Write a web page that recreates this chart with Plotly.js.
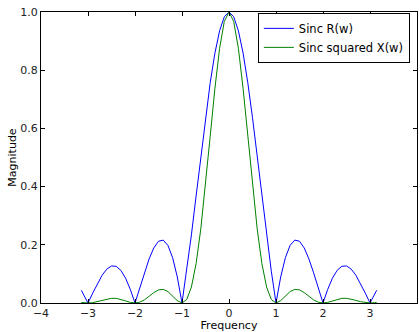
<!DOCTYPE html>
<html>
<head>
<meta charset="utf-8">
<script src="https://cdn.plot.ly/plotly-3.0.1.min.js"></script>
<style>html,body{margin:0;padding:0;background:#fff;}#chart{width:420px;height:332px;}</style>
</head>
<body>
<div id="chart"></div>
<script>
const freq = [-3.1416,-3.1,-3.0,-2.9,-2.8,-2.7,-2.6,-2.5,-2.4,-2.3,-2.2,-2.1,-2.0,-1.9,-1.8,-1.7,-1.6,-1.5,-1.4,-1.3,-1.2,-1.1,-1.0,-0.9,-0.8,-0.7,-0.6,-0.5,-0.4,-0.3,-0.2,-0.1,0.0,0.1,0.2,0.3,0.4,0.5,0.6,0.7,0.8,0.9,1.0,1.1,1.2,1.3,1.4,1.5,1.6,1.7,1.8,1.9,2.0,2.1,2.2,2.3,2.4,2.5,2.6,2.7,2.8,2.9,3.0,3.1,3.1416];
const sincR = [0.0436,0.0317,0,0.0339,0.0668,0.0954,0.1164,0.1273,0.1261,0.1120,0.0851,0.0468,0,0.0518,0.1039,0.1515,0.1892,0.2122,0.2162,0.1981,0.1559,0.0894,0,0.1093,0.2339,0.3679,0.5046,0.6366,0.7568,0.8584,0.9355,0.9836,1.0,0.9836,0.9355,0.8584,0.7568,0.6366,0.5046,0.3679,0.2339,0.1093,0,0.0894,0.1559,0.1981,0.2162,0.2122,0.1892,0.1515,0.1039,0.0518,0,0.0468,0.0851,0.1120,0.1261,0.1273,0.1164,0.0954,0.0668,0.0339,0,0.0317,0.0436];
const sincSqX = [0.0019,0.0010,0,0.0012,0.0045,0.0091,0.0136,0.0162,0.0159,0.0125,0.0072,0.0022,0,0.0027,0.0108,0.0230,0.0358,0.0450,0.0468,0.0392,0.0243,0.0080,0,0.0119,0.0547,0.1353,0.2546,0.4053,0.5728,0.7368,0.8751,0.9675,1.0,0.9675,0.8751,0.7368,0.5728,0.4053,0.2546,0.1353,0.0547,0.0119,0,0.0080,0.0243,0.0392,0.0468,0.0450,0.0358,0.0230,0.0108,0.0027,0,0.0022,0.0072,0.0125,0.0159,0.0162,0.0136,0.0091,0.0045,0.0012,0,0.0010,0.0019];
const seriesNames = ["Sinc R(w)", "Sinc squared X(w)"];

const traces = [
  {x: freq, y: sincR, mode: 'lines', name: seriesNames[0], line: {color: '#0000ff', width: 1}},
  {x: freq, y: sincSqX, mode: 'lines', name: seriesNames[1], line: {color: '#008000', width: 1}}
];
const axisCommon = {
  showgrid: false, zeroline: false, showline: true, linecolor: '#000', linewidth: 1,
  mirror: 'ticks', ticks: 'inside', ticklen: 4, tickcolor: '#000',
  tickfont: {family: 'DejaVu Sans', size: 11, color: '#222'}
};
const layout = {
  width: 420, height: 332,
  margin: {l: 41, r: 3, t: 12, b: 29},
  paper_bgcolor: '#fff', plot_bgcolor: '#fff',
  font: {family: 'DejaVu Sans', size: 11, color: '#000'},
  showlegend: true,
  legend: {x: 0.981, xanchor: 'right', y: 0.997, yanchor: 'top', bordercolor: '#000', borderwidth: 1,
           bgcolor: '#fff', font: {family: 'DejaVu Sans', size: 11.5, color: '#000'}},
  xaxis: Object.assign({}, axisCommon, {range: [-4, 4], dtick: 1, tick0: 0,
    title: {text: 'Frequency', font: {family: 'DejaVu Sans', size: 11}, standoff: 3}}),
  yaxis: Object.assign({}, axisCommon, {range: [0, 1], dtick: 0.2, tick0: 0, tickformat: '.1f',
    title: {text: 'Magnitude', font: {family: 'DejaVu Sans', size: 11}, standoff: 1}})
};
Plotly.newPlot('chart', traces, layout, {displayModeBar: false, staticPlot: true});
</script>
</body>
</html>
